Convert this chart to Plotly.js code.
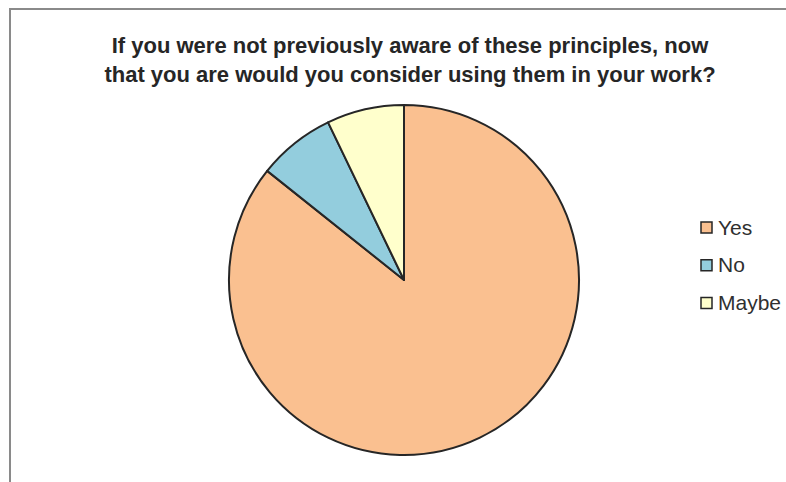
<!DOCTYPE html>
<html>
<head>
<meta charset="utf-8">
<script src="https://cdn.plot.ly/plotly-3.0.1.min.js"></script>
<style>
  html, body { margin: 0; padding: 0; background: #fff; }
  #frame { position: absolute; left: 9px; top: 8px; width: 777px; height: 474px;
           border-left: 2px solid #8a8a8a; border-top: 2px solid #8a8a8a; box-sizing: border-box; }
  #chart { width: 775px; height: 472px; }
</style>
</head>
<body>
<div id="frame"><div id="chart"></div></div>
<script>
const categories = ["Yes", "No", "Maybe"];
const counts = [12, 1, 1];
const colors = ["#FAC090", "#93CDDD", "#FFFFCC"];
const titleText = "If you were not previously aware of these principles, now<br>that you are would you consider using them in your work?";

const W = 775, H = 472;
// pie geometry (px within chart div)
const cx = 393, cy = 270, r = 175;

const trace = {
  type: "pie",
  labels: categories,
  values: counts,
  sort: false,
  direction: "clockwise",
  rotation: 0,
  textinfo: "none",
  hoverinfo: "label+value+percent",
  marker: { colors: colors, line: { color: "#262626", width: 2 } },
  domain: { x: [(cx - r) / W, (cx + r) / W], y: [(H - cy - r) / H, (H - cy + r) / H] },
  showlegend: false
};

const shapes = [];
const annotations = [];
const legX = 690, legY0 = 217.5, legStep = 37.75, box = 11;
categories.forEach((c, i) => {
  const yc = legY0 + i * legStep;
  shapes.push({
    type: "rect", xref: "paper", yref: "paper",
    x0: legX / W, x1: (legX + box) / W,
    y0: 1 - (yc + box / 2) / H, y1: 1 - (yc - box / 2) / H,
    fillcolor: colors[i], line: { color: "#262626", width: 1.5 }
  });
  annotations.push({
    xref: "paper", yref: "paper", x: (legX + box + 4) / W, y: 1 - (yc - 0.5) / H,
    xanchor: "left", yanchor: "middle", showarrow: false, text: c,
    font: { family: "Liberation Sans, Arial, sans-serif", size: 21, color: "#303030" }
  });
});

const layout = {
  width: W, height: H,
  margin: { l: 0, r: 0, t: 0, b: 0 },
  paper_bgcolor: "#fff",
  title: {
    text: titleText,
    x: 399 / W, xanchor: "center", xref: "paper",
    y: 1 - 43 / H, yanchor: "top", yref: "container",
    font: { family: "Liberation Sans, Arial, sans-serif", size: 22, color: "#262626", weight: "bold" }
  },
  shapes: shapes,
  annotations: annotations,
  showlegend: false
};

Plotly.newPlot("chart", [trace], layout, { displayModeBar: false });
</script>
</body>
</html>
